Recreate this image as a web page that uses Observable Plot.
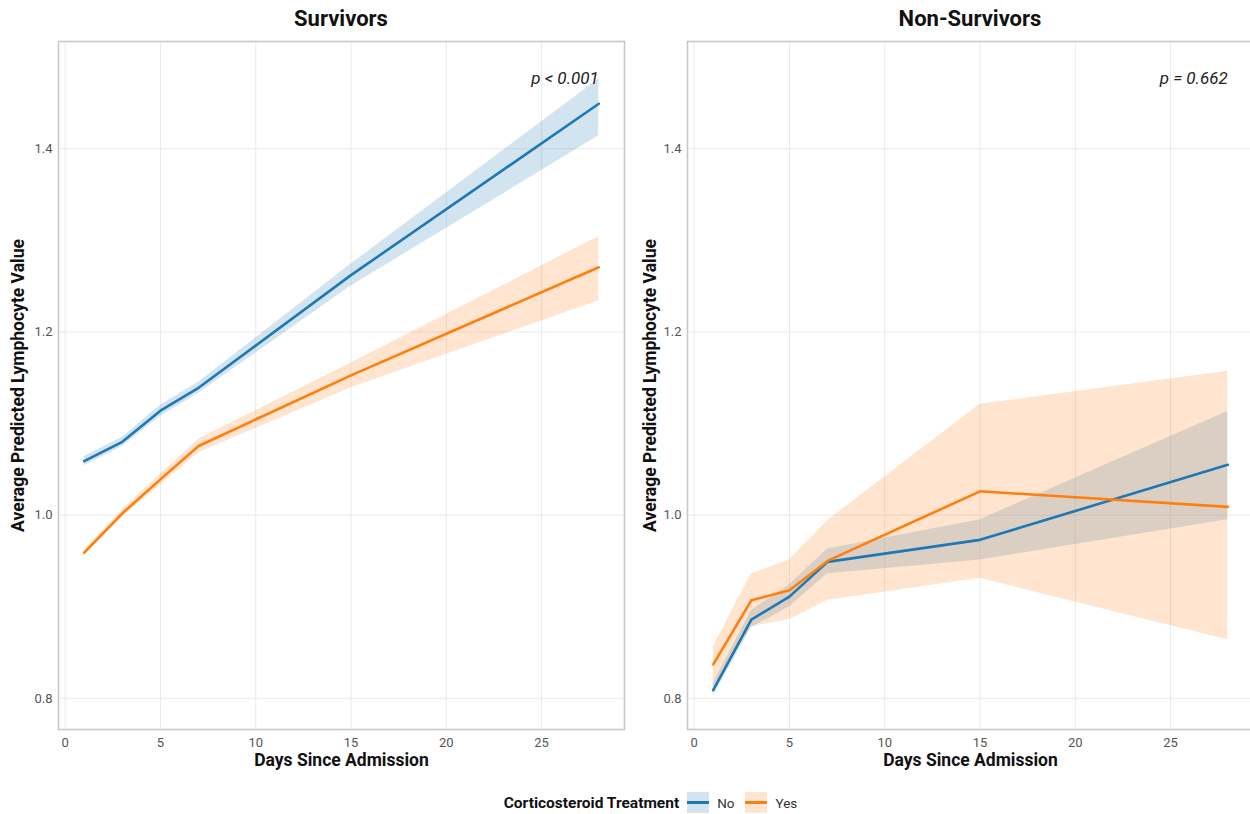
<!DOCTYPE html>
<html>
<head>
<meta charset="utf-8">
<script src="https://cdn.jsdelivr.net/npm/d3@7"></script>
<script src="https://cdn.jsdelivr.net/npm/@observablehq/plot@0.6"></script>
<style>
  html, body { margin: 0; padding: 0; background: #fff; overflow: hidden; }
  body { font-family: Roboto, "Noto Sans", sans-serif; }
  #wrap { position: relative; width: 1250px; height: 814px; overflow: hidden; }
  .title { position: absolute; top: 6px; width: 566px; text-align: center; font-weight: 700; font-size: 22px; line-height: 26px; color: #111; }
  .panel { position: absolute; top: 31px; }
  .panel svg { max-width: none !important; }
  #legend { position: absolute; top: 792px; left: 0; width: 1312px; display: flex; justify-content: center; align-items: center; font-size: 13.5px; color: #333; }
  #legend b { font-size: 15.5px; color: #111; margin-right: 8px; }
  .key { position: relative; display: inline-block; width: 22px; height: 21px; margin-right: 8px; }
  .key i { position: absolute; left: 0px; right: 0px; top: 9px; height: 3px; }
  .lab { margin-right: 11px; }
</style>
</head>
<body>
<div id="wrap">
  <div class="title" style="left:58px">Survivors</div>
  <div class="title" style="left:687px">Non-Survivors</div>
  <div class="panel" id="p1" style="left:0px; width:630px"></div>
  <div class="panel" id="p2" style="left:630px; width:627px"></div>
  <div id="legend"></div>
</div>
<script>
// ---- data ----
const days = [1, 3, 5, 7, 15, 28];
const groups = ["No", "Yes"];
const legendTitle = "Corticosteroid Treatment";
const xLabel = "Days Since Admission";
const yLabel = "Average Predicted Lymphocyte Value";
const xTicks = [0, 5, 10, 15, 20, 25];
const yTicks = [0.8, 1.0, 1.2, 1.4];

// Survivors
const survNoMean  = [1.059, 1.080, 1.114, 1.139, 1.262, 1.449];
const survNoLo    = [1.054, 1.075, 1.108, 1.133, 1.250, 1.414];
const survNoHi    = [1.064, 1.085, 1.120, 1.145, 1.274, 1.476];
const survYesMean = [0.959, 1.002, 1.039, 1.0755, 1.1526, 1.2706];
const survYesLo   = [0.956, 0.998, 1.033, 1.068, 1.139, 1.234];
const survYesHi   = [0.962, 1.006, 1.045, 1.083, 1.166, 1.304];
const survP = "p < 0.001";

// Non-Survivors
const nonNoMean  = [0.809, 0.886, 0.911, 0.949, 0.973, 1.055];
const nonNoLo    = [0.803, 0.877, 0.900, 0.936, 0.951, 0.995];
const nonNoHi    = [0.816, 0.896, 0.924, 0.963, 0.995, 1.113];
const nonYesMean = [0.837, 0.907, 0.918, 0.950, 1.026, 1.009];
const nonYesLo   = [0.812, 0.878, 0.886, 0.907, 0.931, 0.864];
const nonYesHi   = [0.856, 0.936, 0.951, 0.994, 1.121, 1.157];
const nonP = "p = 0.662";

const colors = ["#1f77b4", "#ff7f0e"];

function rows(group, mean, lo, hi) {
  return days.map((d, i) => ({day: d, group, mean: mean[i], lo: lo[i], hi: hi[i]}));
}

const survData = [
  ...rows("No", survNoMean, survNoLo, survNoHi),
  ...rows("Yes", survYesMean, survYesLo, survYesHi)
];
const nonData = [
  ...rows("No", nonNoMean, nonNoLo, nonNoHi),
  ...rows("Yes", nonYesMean, nonYesLo, nonYesHi)
];

function panel(data, pText, ml, mr, ylabDx) {
  return Plot.plot({
    width: ml + 566 + mr,
    height: 745,
    marginLeft: ml,
    marginRight: mr,
    marginTop: 10,
    marginBottom: 47,
    x: {domain: [-0.35, 29.35]},
    y: {domain: [0.766, 1.517]},
    color: {domain: groups, range: colors},
    style: {fontFamily: "Roboto, sans-serif", fontSize: "13px", color: "#555", background: "#fff", maxWidth: "none"},
    marks: [
      Plot.gridX(xTicks, {stroke: "#ebebeb", strokeOpacity: 1, strokeWidth: 1}),
      Plot.gridY(yTicks, {stroke: "#ebebeb", strokeOpacity: 1, strokeWidth: 1}),
      Plot.areaY(data, {x: "day", y1: "lo", y2: "hi", fill: "group", z: "group", fillOpacity: 0.2}),
      Plot.line(data, {x: "day", y: "mean", stroke: "group", z: "group", strokeWidth: 2.6}),
      Plot.axisX(xTicks, {tickSize: 0, tickPadding: 8, label: null}),
      Plot.axisY(yTicks, {tickSize: 0, tickPadding: 6, tickFormat: d3.format(".1f"), label: null}),
      Plot.frame({stroke: "#c8c8c8", strokeWidth: 1.6}),
      Plot.text([pText], {x: 28, y: 1.477, text: d => d, textAnchor: "end", fontStyle: "italic", fontSize: 17, fill: "#222"}),
      Plot.text([xLabel], {frameAnchor: "bottom", dy: 31, lineAnchor: "middle", text: d => d, fontWeight: "bold", fontSize: 17.5, fill: "#111"}),
      Plot.text([yLabel], {frameAnchor: "left", dx: ylabDx, rotate: -90, lineAnchor: "middle", textAnchor: "middle", text: d => d, fontWeight: "bold", fontSize: 17.5, fill: "#111"})
    ]
  });
}

document.getElementById("p1").appendChild(panel(survData, survP, 58, 6, -40));
document.getElementById("p2").appendChild(panel(nonData, nonP, 57, 4, -37));

// legend
const lg = document.getElementById("legend");
const t = document.createElement("b");
t.textContent = legendTitle;
lg.appendChild(t);
groups.forEach((g, i) => {
  const k = document.createElement("span");
  k.className = "key";
  const c = d3.color(colors[i]);
  k.style.background = `rgba(${c.r},${c.g},${c.b},0.2)`;
  const line = document.createElement("i");
  line.style.background = colors[i];
  k.appendChild(line);
  lg.appendChild(k);
  const s = document.createElement("span");
  s.className = "lab";
  s.textContent = g;
  lg.appendChild(s);
});
</script>
</body>
</html>
